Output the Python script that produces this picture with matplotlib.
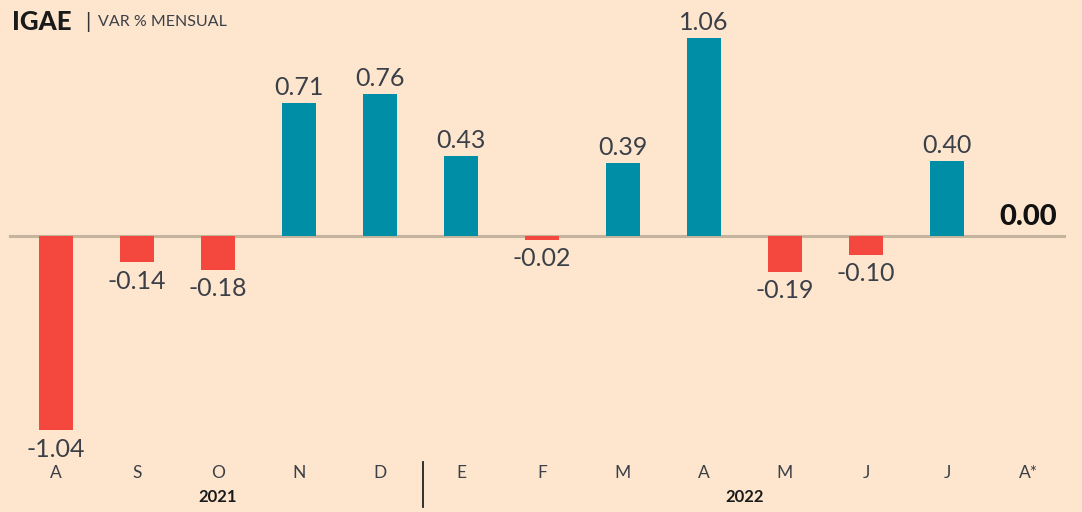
import matplotlib
matplotlib.use("Agg")
import matplotlib.pyplot as plt

# data
months = ["A", "S", "O", "N", "D", "E", "F", "M", "A", "M", "J", "J", "A*"]
values = [-1.04, -0.14, -0.18, 0.71, 0.76, 0.43, -0.02, 0.39, 1.06, -0.19, -0.10, 0.40, 0.00]
years = ["2021", "2022"]
year_pos = [2, 8.5]

bg = "#FDE6CD"
teal = "#008EA6"
red = "#F4483F"
txt = "#3b3f48"

plt.rcParams["font.family"] = ["Lato", "DejaVu Sans"]

fig = plt.figure(figsize=(10.82, 5.12), dpi=100, facecolor=bg)
ax = fig.add_axes([0, 0, 1, 1])
ax.set_facecolor(bg)
ax.set_xlim(-0.691, 12.667)
ax.set_ylim(-1.476, 1.262)
ax.axis("off")

x = list(range(len(months)))
colors = [teal if v > 0 else red for v in values]
ax.bar(x[:-1], values[:-1], width=0.43, color=colors[:-1], zorder=2)
ax.plot([-0.57, 12.45], [0, 0], color="#c4b49e", lw=2.2, zorder=1)

for i, v in enumerate(values):
    if i == len(values) - 1:
        ax.text(i, 0.03, f"{v:.2f}", ha="center", va="bottom", fontsize=21,
                fontweight="black", color="#111111")
    elif v > 0:
        ax.text(i, v + 0.02, f"{v:.2f}", ha="center", va="bottom", fontsize=18,
                fontweight="normal", color=txt)
    else:
        ax.text(i, v - 0.04, f"{v:.2f}", ha="center", va="top", fontsize=18,
                fontweight="normal", color=txt)

for i, m in enumerate(months):
    ax.text(i, -1.265, m, ha="center", va="center", fontsize=12.5, color=txt)
for p, yr in zip(year_pos, years):
    ax.text(p, -1.395, yr, ha="center", va="center", fontsize=12,
            fontweight="bold", color="#1a1a1a")

ax.plot([4.53, 4.53], [-1.21, -1.45], color="#222222", lw=1.3)

fig.text(0.011, 0.958, "IGAE", ha="left", va="center", fontsize=18.5,
         fontweight="black", color="#1a1a1a")
fig.text(0.079, 0.957, "|", ha="left", va="center", fontsize=15, color="#333333")
fig.text(0.091, 0.957, "VAR % MENSUAL", ha="left", va="center", fontsize=11.5,
         color=txt)

fig.savefig("out.png", dpi=100, facecolor=bg)
